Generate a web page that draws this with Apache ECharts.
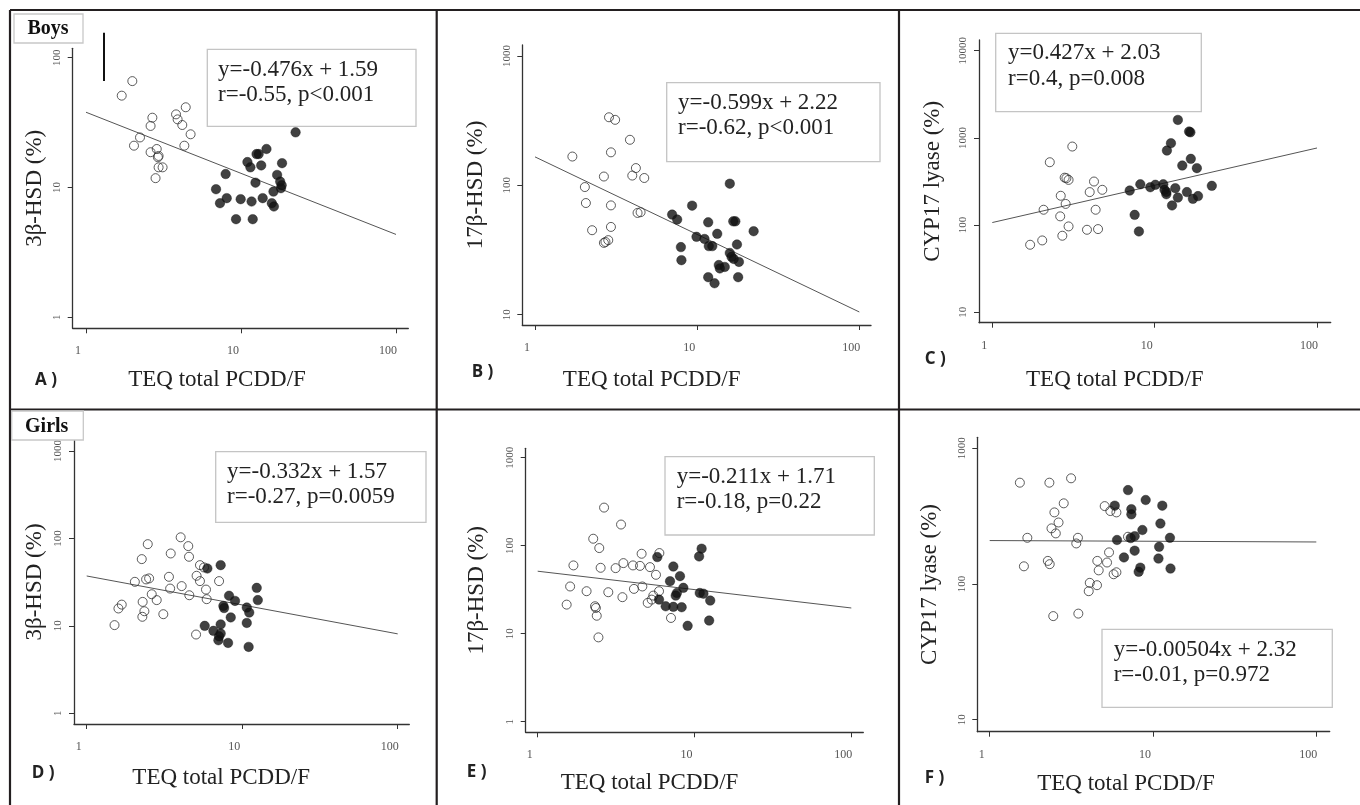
<!DOCTYPE html>
<html>
<head>
<meta charset="utf-8">
<title>TEQ total PCDD/F and steroidogenic enzymes</title>
<script src="https://cdn.jsdelivr.net/npm/echarts@6/dist/echarts.min.js"></script>
<style>
  html, body { margin: 0; padding: 0; background: #fff; }
  #chart { width: 1360px; height: 805px; }
</style>
</head>
<body>
<div id="chart"></div>
<script>
// ---- data: [TEQ total PCDD/F, enzyme activity %] ----
var xTicks = [1, 10, 100];

// A) boys, 3β-HSD
var boys3bOpen = [[1.70,51],[1.99,66],[2.23,24.3],[2.04,21],[2.68,34.5],[2.61,29.8],[2.61,18.7],[2.86,19.8],[2.94,17.5],[2.91,17.1],[2.94,14.3],[3.12,14.3],[2.81,11.8],[3.81,36.6],[3.90,33.5],[4.18,30.3],[4.40,41.5],[4.73,25.7],[4.31,21.0]];
var boys3bFilled = [[22.5,26.6],[14.6,19.8],[13.0,18.1],[12.6,18.1],[11.0,15.7],[11.5,14.3],[13.5,14.8],[18.4,15.4],[7.96,12.7],[17.1,12.5],[17.9,11.1],[12.4,10.9],[18.1,9.88],[16.2,9.3],[6.90,9.7],[8.09,8.28],[7.32,7.57],[9.95,8.13],[11.7,7.80],[13.8,8.28],[15.8,7.57],[16.3,7.14],[9.29,5.70],[11.9,5.70],[18.3,10.4]];
var boys3bFit = [[1,38],[100,4.35]];

// B) boys, 17β-HSD
var boys17bOpen = [[1.70,167],[2.86,336],[3.12,321],[3.85,225],[2.94,180],[2.66,117],[4.19,136],[3.98,119],[4.72,114],[2.03,97],[2.06,73],[2.94,70],[2.25,45],[2.94,47.7],[2.66,35.9],[2.83,37.7],[2.72,36.5],[4.29,61.2],[4.48,62]];
var boys17bFilled = [[15.9,103],[9.31,69.7],[7.01,59.4],[7.53,54.4],[11.7,51.8],[17.2,52.7],[16.7,52.7],[22.3,44.2],[13.3,42.2],[9.91,40],[11.1,38.5],[11.8,33.9],[12.4,33.9],[17.6,34.9],[7.94,33.3],[8.00,26.4],[15.9,30],[16.3,28],[18.1,25.6],[16.8,27],[13.6,24.2],[13.8,22.8],[14.8,23.4],[11.7,19.5],[12.8,17.5],[17.9,19.5]];
var boys17bFit = [[1,166],[100,10.5]];

// C) boys, CYP17 lyase
var boysLyaseOpen = [[1.71,59.5],[2.03,66.7],[2.07,150],[2.26,526],[3.11,796],[2.64,217],[2.83,175],[2.62,126],[2.95,96.6],[2.70,75.5],[2.86,345],[2.95,330],[2.79,350],[3.83,88.4],[4.48,90],[3.98,239],[4.23,316],[4.76,254],[4.33,150]];
var boysLyaseFilled = [[13.9,1607],[16.3,1183],[16.6,1160],[12.6,869],[11.9,716],[16.7,575],[14.8,482],[18.2,450],[7.02,249],[8.16,294],[9.40,272],[10.1,290],[11.3,294],[11.5,254],[11.8,226],[13.4,265],[13.9,207],[12.8,168],[15.8,239],[17.2,200],[18.5,215],[22.5,282],[7.53,131],[8.00,84.6],[11.8,240]];
var boysLyaseFit = [[1,107],[100,766]];

// D) girls, 3β-HSD
var girls3bOpen = [[1.51,10.2],[1.60,15.8],[1.68,17.5],[2.04,31.9],[2.26,58],[2.47,86],[2.41,34],[2.52,34.9],[2.29,18.8],[2.35,14.7],[2.28,12.7],[2.62,23],[2.82,19.7],[3.11,13.6],[3.38,36.4],[3.44,26.7],[3.47,67.3],[4.08,28.5],[4.02,103],[4.50,81.7],[4.55,61.7],[4.57,22.4],[5.09,37.4],[5.35,32.5],[5.35,49.5],[5.68,46.6],[5.85,26],[5.91,20.2],[7.10,32.5],[5.05,7.96]];
var girls3bFilled = [[5.97,45.3],[7.27,49.5],[8.23,22.1],[8.99,19.3],[7.57,16.9],[7.65,16.0],[8.44,12.5],[12.4,27.2],[12.6,19.7],[10.7,16.2],[11.1,14.2],[10.7,10.8],[5.74,10.0],[6.53,8.77],[7.27,10.4],[7.27,8.17],[7.03,6.85],[8.11,6.38],[11.0,5.75],[7.1,7.6]];
var girls3bFit = [[1,37.2],[100,8.1]];

// E) girls, 17β-HSD
var girls17bOpen = [[1.53,21.4],[1.61,34.4],[1.69,59.7],[2.05,30.4],[2.26,120],[2.47,94],[2.52,56.1],[2.32,20.5],[2.35,19.6],[2.38,16],[2.44,9.08],[2.65,271],[2.82,29.6],[3.14,55.6],[3.40,174],[3.52,63.4],[3.47,26],[4.05,59.7],[4.11,32.3],[4.49,59],[4.60,81],[4.65,34.4],[5.20,57.1],[5.03,22.4],[5.33,24.4],[5.46,27.1],[5.68,46.7],[5.94,30.4],[5.97,82.5],[7.08,15.1]];
var girls17bFilled = [[5.79,74.3],[5.94,24.4],[6.55,20.5],[7.33,58],[6.98,39.5],[8.08,45.1],[8.49,33.2],[7.59,27.1],[7.72,29],[7.33,20.2],[8.28,20],[9.04,12.3],[11.1,92.5],[10.7,75.5],[10.8,29],[11.4,28.5],[12.6,23.8],[12.4,14.1]];
var girls17bFit = [[1,51.3],[100,19.6]];

// F) girls, CYP17 lyase
var girlsLyaseOpen = [[1.53,558],[2.32,558],[3.15,601],[2.84,393],[2.49,337],[2.64,284],[2.39,257],[2.54,236],[1.70,219],[1.62,135],[2.27,148],[2.33,140],[3.47,219],[3.39,199],[2.45,58],[3.49,60.5],[4.10,102],[4.04,88.5],[4.54,98],[4.56,148],[4.65,126],[5.23,144],[5.38,171],[5.06,375],[5.48,345],[5.97,337],[5.74,118],[5.97,122],[7.03,223]];
var girlsLyaseFilled = [[7.03,492],[9.02,416],[5.83,378],[7.37,356],[7.37,326],[11.4,378],[11.1,279],[8.61,250],[7.72,225],[7.30,218],[6.02,211],[12.7,219],[10.9,188],[7.72,176],[6.64,157],[10.8,154],[8.36,132],[8.17,123],[12.8,130]];
var girlsLyaseFit = [[1,209],[100,204]];

var yNames = ['3β-HSD (%)', '17β-HSD (%)', 'CYP17 lyase (%)', '3β-HSD (%)', '17β-HSD (%)', 'CYP17 lyase (%)'];
var yRanges = [[1, 100], [10, 1000], [10, 10000], [1, 1000], [1, 1000], [10, 1000]];
var xName = 'TEQ total PCDD/F';
var panelLetters = ['A )', 'B )', 'C )', 'D )', 'E )', 'F )'];
var equations = [
  ['y=-0.476x + 1.59', 'r=-0.55, p<0.001'],
  ['y=-0.599x + 2.22', 'r=-0.62, p<0.001'],
  ['y=0.427x + 2.03', 'r=0.4, p=0.008'],
  ['y=-0.332x + 1.57', 'r=-0.27, p=0.0059'],
  ['y=-0.211x + 1.71', 'r=-0.18, p=0.22'],
  ['y=-0.00504x + 2.32', 'r=-0.01, p=0.972']
];

// ---- layout (pixels) ----
// plot: area between the 1 / 100 x ticks and the lowest / highest y ticks
// frame: the longer L-shaped axis lines
var layout = [
  { plot: [86, 57.7, 310, 259.6],    frame: [72.7, 48.3, 335.6, 280],   xGap: 40, xPad: 47, yGap: 26, box: [207.3, 49.3, 208.7, 77],  text: [218, 70, 95],       letter: [35, 380] },
  { plot: [535, 56, 324.3, 258.7],   frame: [522.3, 45, 348.7, 280],    xGap: 43, xPad: 90, yGap: 35, box: [666.7, 82.7, 213.3, 79],  text: [678, 103, 128],     letter: [471.7, 371.7] },
  { plot: [992.3, 50.7, 324.7, 261.6], frame: [979, 40, 351.7, 282.7],  xGap: 46, xPad: 80, yGap: 35, box: [995.7, 33.3, 205.6, 78.4], text: [1008, 53.3, 79],   letter: [924.7, 359] },
  { plot: [86.7, 451, 311, 262.3],   frame: [74, 440, 335.3, 284],      xGap: 42, xPad: 41, yGap: 28, box: [215.7, 451.7, 210.3, 70.6], text: [227, 471.7, 496.7], letter: [31.7, 773] },
  { plot: [537.7, 457.7, 313.6, 264], frame: [525.7, 448.3, 337.6, 284], xGap: 39, xPad: 90, yGap: 37, box: [665, 456.7, 209.3, 78.3], text: [676.7, 477.3, 501.7], letter: [466.7, 772] },
  { plot: [989.7, 448.3, 326.6, 271.4], frame: [977.3, 437.3, 352.4, 294.4], xGap: 41, xPad: 55, yGap: 36, box: [1102, 629.3, 230.3, 78], text: [1113.7, 650, 675], letter: [924.7, 778] }
];

var openSets = [boys3bOpen, boys17bOpen, boysLyaseOpen, girls3bOpen, girls17bOpen, girlsLyaseOpen];
var filledSets = [boys3bFilled, boys17bFilled, boysLyaseFilled, girls3bFilled, girls17bFilled, girlsLyaseFilled];
var fitSets = [boys3bFit, boys17bFit, boysLyaseFit, girls3bFit, girls17bFit, girlsLyaseFit];

var SERIF = '"Liberation Serif", "Times New Roman", serif';
var AXIS_COLOR = '#333';
var n = layout.length;

var grids = [], xAxes = [], yAxes = [], series = [], graphics = [];

function roundLabel(v) { return String(Math.round(v)); }

for (var i = 0; i < n; i++) {
  var L = layout[i];
  // data grid (log axes, ticks + labels, no axis line)
  grids.push({ left: L.plot[0], top: L.plot[1], width: L.plot[2], height: L.plot[3], containLabel: false, outerBoundsMode: 'none' });
  xAxes.push({
    type: 'log', logBase: 10, gridIndex: i, min: xTicks[0], max: xTicks[xTicks.length - 1],
    offset: L.frame[1] + L.frame[3] - (L.plot[1] + L.plot[3]),
    axisLine: { show: false },
    axisTick: { show: true, length: 5, lineStyle: { color: AXIS_COLOR, width: 1 } },
    axisLabel: { margin: 17, color: '#555', fontFamily: SERIF, fontSize: 12, padding: [0, 16, 0, 0], formatter: roundLabel },
    splitLine: { show: false }, minorTick: { show: false }
  });
  yAxes.push({
    type: 'log', logBase: 10, gridIndex: i, min: yRanges[i][0], max: yRanges[i][1],
    offset: L.plot[0] - L.frame[0],
    axisLine: { show: false },
    axisTick: { show: true, length: 5, lineStyle: { color: AXIS_COLOR, width: 1 } },
    axisLabel: { rotate: 90, margin: 10, color: '#555', fontFamily: SERIF, fontSize: 11, formatter: roundLabel },
    splitLine: { show: false }, minorTick: { show: false }
  });
}

for (var j = 0; j < n; j++) {
  var F = layout[j];
  // frame grid: only the long axis lines plus the axis names
  grids.push({ left: F.frame[0], top: F.frame[1], width: F.frame[2], height: F.frame[3], containLabel: false, outerBoundsMode: 'none' });
  xAxes.push({
    type: 'value', gridIndex: n + j, min: 0, max: 1,
    axisLine: { show: true, lineStyle: { color: AXIS_COLOR, width: 1.3 } },
    axisTick: { show: false }, axisLabel: { show: false }, splitLine: { show: false },
    name: xName, nameLocation: 'middle', nameGap: F.xGap,
    nameTextStyle: { fontFamily: SERIF, fontSize: 23, color: '#222', padding: [0, F.xPad, 0, 0] }
  });
  yAxes.push({
    type: 'value', gridIndex: n + j, min: 0, max: 1,
    axisLine: { show: true, lineStyle: { color: AXIS_COLOR, width: 1.3 } },
    axisTick: { show: false }, axisLabel: { show: false }, splitLine: { show: false },
    name: yNames[j], nameLocation: 'middle', nameGap: F.yGap,
    nameTextStyle: { fontFamily: SERIF, fontSize: 23, color: '#222' }
  });
}

for (var k = 0; k < n; k++) {
  series.push({
    type: 'line', xAxisIndex: k, yAxisIndex: k, data: fitSets[k],
    showSymbol: false, symbol: 'none', silent: true,
    lineStyle: { color: '#555', width: 1 }, z: 2
  });
  series.push({
    type: 'scatter', xAxisIndex: k, yAxisIndex: k, data: openSets[k],
    symbol: 'circle', symbolSize: 9,
    itemStyle: { color: 'rgba(255,255,255,0)', borderColor: '#333', borderWidth: 1 }, z: 3
  });
  series.push({
    type: 'scatter', xAxisIndex: k, yAxisIndex: k, data: filledSets[k],
    symbol: 'circle', symbolSize: 9.5,
    itemStyle: { color: '#111', borderColor: '#111', borderWidth: 0.5 }, z: 4
  });
}

// figure frame
var FRAME = '#231f20';
[[10, 10, 1360, 10], [10, 10, 10, 805], [436.7, 10, 436.7, 805], [899, 10, 899, 805], [10, 409.5, 1360, 409.5]].forEach(function (s) {
  graphics.push({ type: 'line', silent: true, shape: { x1: s[0], y1: s[1], x2: s[2], y2: s[3] }, style: { stroke: FRAME, lineWidth: 2.2 } });
});

// equation boxes and panel letters
for (var m = 0; m < n; m++) {
  var B = layout[m];
  graphics.push({ type: 'rect', silent: true, shape: { x: B.box[0], y: B.box[1], width: B.box[2], height: B.box[3] }, style: { fill: '#fff', stroke: '#c4c4c4', lineWidth: 1.3 }, z: 10 });
  graphics.push({ type: 'text', silent: true, x: B.text[0], y: B.text[1], style: { text: equations[m][0], font: '23px ' + SERIF, fill: '#222', verticalAlign: 'middle' }, z: 11 });
  graphics.push({ type: 'text', silent: true, x: B.text[0], y: B.text[2], style: { text: equations[m][1], font: '23px ' + SERIF, fill: '#222', verticalAlign: 'middle' }, z: 11 });
  graphics.push({ type: 'text', silent: true, x: B.letter[0], y: B.letter[1], style: { text: panelLetters[m], font: 'bold 17px "Open Sans", sans-serif', fill: '#222', verticalAlign: 'middle' }, z: 11 });
}

// row labels
graphics.push({ type: 'rect', silent: true, shape: { x: 14, y: 14, width: 69, height: 29 }, style: { fill: '#fff', stroke: '#c8c8c8', lineWidth: 1.3 }, z: 10 });
graphics.push({ type: 'text', silent: true, x: 48, y: 29, style: { text: 'Boys', font: 'bold 20px ' + SERIF, fill: '#111', align: 'center', verticalAlign: 'middle' }, z: 11 });
graphics.push({ type: 'rect', silent: true, shape: { x: 11.7, y: 411, width: 71.6, height: 29 }, style: { fill: '#fff', stroke: '#c8c8c8', lineWidth: 1.3 }, z: 10 });
graphics.push({ type: 'text', silent: true, x: 46.7, y: 427, style: { text: 'Girls', font: 'bold 20px ' + SERIF, fill: '#111', align: 'center', verticalAlign: 'middle' }, z: 11 });
// stray mark in panel A
graphics.push({ type: 'line', silent: true, shape: { x1: 104, y1: 32.7, x2: 104, y2: 81 }, style: { stroke: '#111', lineWidth: 2 }, z: 11 });

var chart = echarts.init(document.getElementById('chart'), null, { renderer: 'canvas' });
chart.setOption({
  backgroundColor: '#ffffff',
  animation: false,
  tooltip: { show: false },
  grid: grids,
  xAxis: xAxes,
  yAxis: yAxes,
  series: series,
  graphic: graphics
});
window.addEventListener('resize', function () { chart.resize(); });
</script>
</body>
</html>
